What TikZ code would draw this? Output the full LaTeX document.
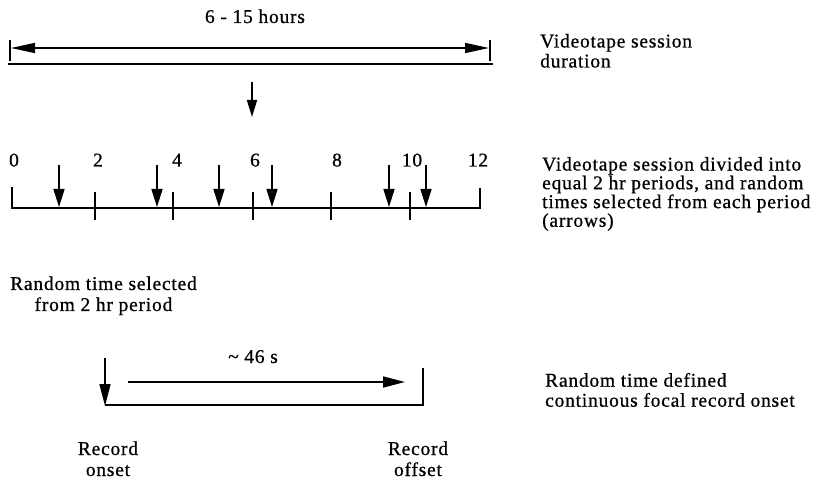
\documentclass[tikz,border=0pt]{standalone}
\usepackage{fontspec}
\setmainfont{Liberation Serif}[LetterSpace=4,FakeBold=0.7]
\usetikzlibrary{arrows.meta}
\begin{document}
\begin{tikzpicture}[x=1pt,y=-1pt,
  lbl/.style={inner sep=0pt, font=\fontsize{19.5}{20.5}\selectfont},
  blk/.style={lbl, align=left, font=\fontsize{19.5}{16.7}\selectfont},
  ln/.style={line width=1.6pt},
  arrbig/.style={ln,-{Triangle[length=22pt,width=11pt]}},
  arrmid/.style={ln,-{Triangle[length=18pt,width=11pt]}},
]
\useasboundingbox (0,0) rectangle (820,481);

% ---- top: session duration
\node[lbl,anchor=base] (hrs) at (255,23) {6 - 15 hours};
\coordinate (bl1) at (10,40); \coordinate (bl2) at (10,61);
\coordinate (br1) at (490,40); \coordinate (br2) at (490,61);
\coordinate (dl) at (11,48); \coordinate (dr) at (489,48);
\coordinate (ul) at (8,64); \coordinate (ur) at (493,64);
\draw[ln] (bl1) -- (bl2);
\draw[ln] (br1) -- (br2);
\draw[ln,{Triangle[length=24pt,width=10pt]}-{Triangle[length=24pt,width=10pt]}] (dl) -- (dr);
\draw[ln] (ul) -- (ur);
\coordinate (da1) at (252,82); \coordinate (da2) at (252,117);
\draw[ln,-{Triangle[length=17pt,width=10pt]}] (da1) -- (da2);

\node[lbl,anchor=base west] (t1a) at (540,47.5) {Videotape session};
\node[lbl,anchor=base west] (t1b) at (540,67.5) {duration};

% ---- middle: divided session
\coordinate (m0t) at (12,187); \coordinate (m0) at (12,208);
\coordinate (m12) at (480,208); \coordinate (m12t) at (480,188);
\draw[ln] (m0t) -- (m0) -- (m12) -- (m12t);
\foreach \x/\n in {95/a,173/b,253/c,331/d,410/e}{
  \coordinate (tk\n1) at (\x,192); \coordinate (tk\n2) at (\x,220);
  \draw[ln] (tk\n1) -- (tk\n2);
}
\foreach \x/\n in {59/a,157/b,219/c,272/d,389/e,426/f}{
  \coordinate (ra\n1) at (\x,165); \coordinate (ra\n2) at (\x,207);
  \draw[arrmid] (ra\n1) -- (ra\n2);
}
\foreach \x/\t/\n in {14/0/a,98/2/b,177/4/c,255/6/d,337/8/e,412/10/f,478/12/g}{
  \node[lbl,anchor=base] (num\n) at (\x,166.5) {\t};
}
\node[blk,anchor=base west] (t2) at (542,226.8) {Videotape session divided into\\equal 2 hr periods, and random\\times selected from each period\\(arrows)};

% ---- bottom: focal record
\node[lbl,anchor=base] (rs1) at (103.5,290) {Random time selected};
\node[lbl,anchor=base] (rs2) at (103.5,311) {from 2 hr period};
\coordinate (on1) at (105,358); \coordinate (on2) at (105,406);
\coordinate (bb0) at (105,405); \coordinate (bb1) at (423,405); \coordinate (bb2) at (423,368);
\draw[ln] (bb0) -- (bb1) -- (bb2);
\draw[arrbig] (on1) -- (on2);
\coordinate (s1) at (128,382); \coordinate (s2) at (405,382);
\draw[arrbig] (s1) -- (s2);
\node[lbl,anchor=base] (dur) at (253,363) {\char"007E\ 46 s};
\node[lbl,anchor=base] (ron1) at (108,455) {Record};
\node[lbl,anchor=base] (ron2) at (108,476) {onset};
\node[lbl,anchor=base] (rof1) at (418,455) {Record};
\node[lbl,anchor=base] (rof2) at (418,476) {offset};
\node[lbl,anchor=base west] (t3a) at (545,386.7) {Random time defined};
\node[lbl,anchor=base west] (t3b) at (545,406.7) {continuous focal record onset};
\end{tikzpicture}
\end{document}
